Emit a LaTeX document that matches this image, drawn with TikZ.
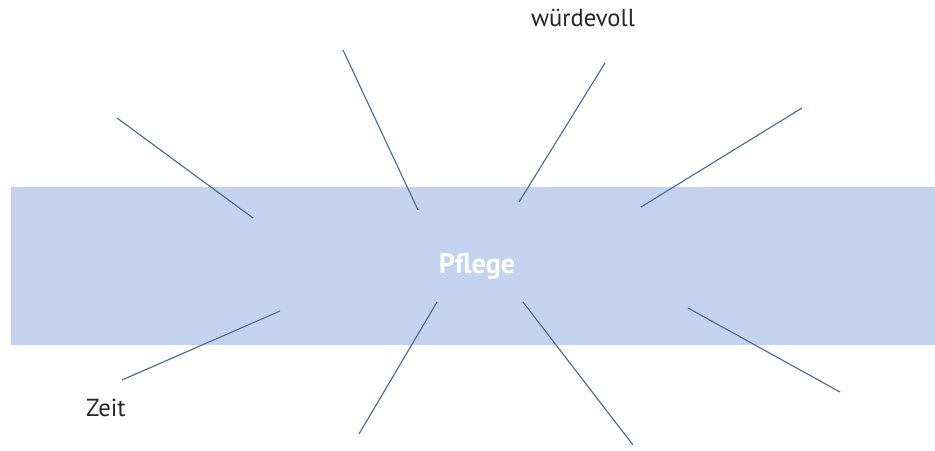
\documentclass[tikz,border=0pt]{standalone}
\usepackage{fontspec}
\setmainfont{PT Sans}
\usetikzlibrary{
  positioning,  % Function "of" (e.g. [right=of x])
  calc,         % Calculations $...$
}
\definecolor{bandblue}{HTML}{C3D3EF}
\definecolor{rayblue}{HTML}{4A6A96}
\tikzset{
  x=0.02cm,
  y=-0.02cm,
  band/.style={
    fill=bandblue,
    draw=none
  },
  ray/.style={
    draw=rayblue,
    line width=0.65pt
  },
  word/.style={
    font=\fontsize{14}{17}\selectfont,
    text=black!85,
    inner sep=0pt
  },
  centre word/.style={
    font=\fontsize{16}{19}\selectfont\bfseries,
    text=white,
    inner sep=0pt
  }
}

\begin{document}
\begin{tikzpicture}
\useasboundingbox (0,0) rectangle (935,450);
\fill[band] (11,187) rectangle (935,345);
\node[centre word] (pflege) at (477,266) {Pflege};
\node[word]        (wuerde) at (583,18)  {würdevoll};
\node[word]        (zeit)   at (106,408) {Zeit};
% outer ends
\coordinate (o1) at (117,118);
\coordinate (o2) at (343,50);
\coordinate (o3) at (605,63);
\coordinate (o4) at (802,108);
\coordinate (o5) at (122,380);
\coordinate (o6) at (359,434);
\coordinate (o7) at (633,445);
\coordinate (o8) at (840,392);
% inner ends
\coordinate (i1) at (253,218);
\coordinate (i2) at (418,210);
\coordinate (i3) at (519,202);
\coordinate (i4) at (641,207);
\coordinate (i5) at (280,311);
\coordinate (i6) at (437,302);
\coordinate (i7) at (523,302);
\coordinate (i8) at (688,308);
\foreach \k in {1,...,8}
  \draw[ray] (o\k) -- (i\k);
\end{tikzpicture}
\end{document}
